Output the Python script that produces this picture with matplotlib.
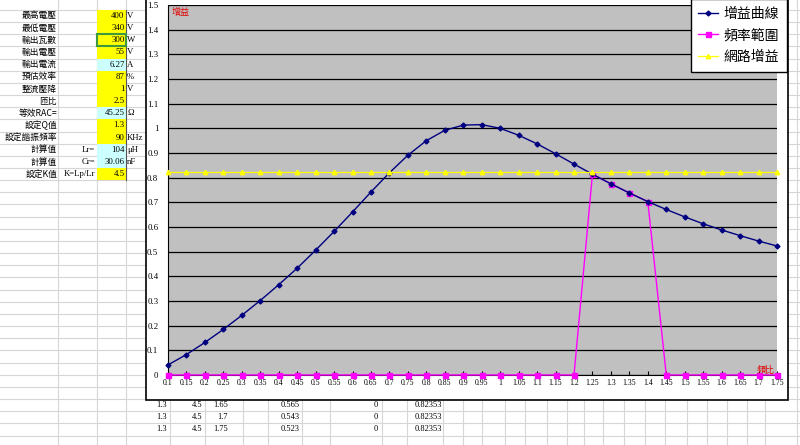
import matplotlib
matplotlib.use('Agg')
import matplotlib.pyplot as plt
from matplotlib.patches import Rectangle

plt.rcParams['font.family'] = ['Noto Sans CJK TC', 'DejaVu Sans']

# ---------------- data ----------------
freq_ratio = [0.1, 0.15, 0.2, 0.25, 0.3, 0.35, 0.4, 0.45, 0.5, 0.55, 0.6, 0.65,
              0.7, 0.75, 0.8, 0.85, 0.9, 0.95, 1.0, 1.05, 1.1, 1.15, 1.2, 1.25,
              1.3, 1.35, 1.4, 1.45, 1.5, 1.55, 1.6, 1.65, 1.7, 1.75]
x_labels = ['0.1', '0.15', '0.2', '0.25', '0.3', '0.35', '0.4', '0.45', '0.5', '0.55',
            '0.6', '0.65', '0.7', '0.75', '0.8', '0.85', '0.9', '0.95', '1', '1.05',
            '1.1', '1.15', '1.2', '1.25', '1.3', '1.35', '1.4', '1.45', '1.5', '1.55',
            '1.6', '1.65', '1.7', '1.75']
gain = [0.041, 0.083, 0.132, 0.185, 0.242, 0.302, 0.366, 0.433, 0.506, 0.582,
        0.661, 0.742, 0.820, 0.891, 0.950, 0.992, 1.013, 1.015, 1.000, 0.972,
        0.937, 0.897, 0.855, 0.814, 0.775, 0.738, 0.703, 0.671, 0.641, 0.613,
        0.588, 0.565, 0.543, 0.523]
freq_range = [0, 0, 0, 0, 0, 0, 0, 0, 0, 0, 0, 0, 0, 0, 0, 0, 0, 0, 0, 0, 0, 0, 0,
              0.814, 0.775, 0.738, 0.703, 0, 0, 0, 0, 0, 0, 0]
net_gain = [0.82353, 0.82353, 0.82353, 0.82353, 0.82353, 0.82353, 0.82353, 0.82353,
            0.82353, 0.82353, 0.82353, 0.82353, 0.82353, 0.82353, 0.82353, 0.82353,
            0.82353, 0.82353, 0.82353, 0.82353, 0.82353, 0.82353, 0.82353, 0.82353,
            0.82353, 0.82353, 0.82353, 0.82353, 0.82353, 0.82353, 0.82353, 0.82353,
            0.82353, 0.82353]
y_ticks = [0, 0.1, 0.2, 0.3, 0.4, 0.5, 0.6, 0.7, 0.8, 0.9, 1.0, 1.1, 1.2, 1.3, 1.4, 1.5]
y_labels = ['0', '0.1', '0.2', '0.3', '0.4', '0.5', '0.6', '0.7', '0.8', '0.9',
            '1', '1.1', '1.2', '1.3', '1.4', '1.5']
series_names = ['增益曲線', '頻率範圍', '網路增益']
y_title = '增益'
x_title = '頻比'

param_labels = ['最高電壓', '最低電壓', '輸出瓦數', '輸出電壓', '輸出電流', '預估效率',
                '整流壓降', '匝比', '等效RAC=', '設定Q值', '設定諧振頻率', '計算值',
                '計算值', '設定K值']
param_extra = ['', '', '', '', '', '', '', '', '', '', '', 'Lr=', 'Cr=', 'K=Lp/Lr']
param_values = ['400', '340', '300', '55', '6.27', '87', '1', '2.5', '45.25', '1.3',
                '90', '104', '30.06', '4.5']
param_units = ['V', 'V', 'W', 'V', 'A', '%', 'V', '', 'Ω', '', 'KHz', 'μH', 'nF', '']
param_input = [True, True, True, True, False, True, True, True, False, True, True,
               False, False, True]
below_rows = [['1.3', '4.5', '1.65', '0.565', '0', '0.82353'],
              ['1.3', '4.5', '1.7', '0.543', '0', '0.82353'],
              ['1.3', '4.5', '1.75', '0.523', '0', '0.82353']]

# ---------------- layout ----------------
W, H = 800, 445
fig = plt.figure(figsize=(W / 100, H / 100), dpi=100)
bg = fig.add_axes([0, 0, 1, 1])
bg.set_xlim(0, W)
bg.set_ylim(H, 0)
bg.axis('off')

row_h = 12.16
row0 = 9.9
grid_c = '#D6D6D6'
for k in range(-1, 37):
    y = row0 + row_h * k
    bg.plot([0, W], [y, y], color=grid_c, lw=0.8, zorder=1)
for x in [58, 97, 126]:
    bg.plot([x, x], [0, H], color=grid_c, lw=0.8, zorder=1)
for x in [170, 205, 243, 268, 302, 330, 382, 407, 443, 463, 482, 505, 525, 547,
          567, 584, 603, 624, 645, 665, 687, 707, 727, 747, 765]:
    bg.plot([x, x], [400, H], color=grid_c, lw=0.8, zorder=1)
bg.plot([797, 797], [0, H], color=grid_c, lw=0.8, zorder=1)

serif = 'Liberation Serif'
for i in range(len(param_labels)):
    top = row0 + row_h * i
    cy = top + row_h / 2
    fc = '#FFFF00' if param_input[i] else '#CCFFFF'
    bg.add_patch(Rectangle((97, top), 29, row_h, fc=fc, ec='none', zorder=2))
    bg.text(57, cy, param_labels[i], ha='right', va='center', fontsize=6.3, zorder=4)
    if param_extra[i]:
        bg.text(95, cy, param_extra[i], ha='right', va='center', fontsize=6.3,
                family=serif, zorder=4)
    bg.text(124.5, cy, param_values[i], ha='right', va='center', fontsize=6.3,
            family=serif, zorder=4)
    if param_units[i]:
        bg.text(127, cy, param_units[i], ha='left', va='center', fontsize=6.3,
                family=[serif, 'DejaVu Sans'], zorder=4)
bg.plot([126, 126], [row0, row0 + row_h * 14], color='#555555', lw=0.8, zorder=3)
bg.add_patch(Rectangle((97, row0 + row_h * 2), 29, row_h, fc='none', ec='#3C9A3C',
                       lw=1.5, zorder=3))

right_edges = [167, 202, 228, 300, 378, 442]
for r, vals in enumerate(below_rows):
    cy = row0 + row_h * (32 + r) + row_h / 2
    for x, v in zip(right_edges, vals):
        bg.text(x, cy, v, ha='right', va='center', fontsize=6, family=serif, zorder=4)

# chart area
bg.add_patch(Rectangle((146, -5), 642, 405, fc='white', ec='black', lw=1.2, zorder=5))

# plot area
px0, px1, py0, py1 = 168, 777, 5, 375
ax = fig.add_axes([px0 / W, 1 - py1 / H, (px1 - px0) / W, (py1 - py0) / H])
ax.set_facecolor('#C0C0C0')
l1, = ax.plot(freq_ratio, gain, color='#000080', marker='D', ms=2.5, lw=1.0,
              label=series_names[0], clip_on=False, zorder=4)
l2, = ax.plot(freq_ratio, freq_range, color='#FF00FF', marker='s', ms=3.6, lw=1.0,
              label=series_names[1], clip_on=False, zorder=3)
l3, = ax.plot(freq_ratio, net_gain, color='#FFFF00', marker='^', ms=3.2, lw=0.9,
              label=series_names[2], clip_on=False, zorder=5)
ax.set_xlim(freq_ratio[0], freq_ratio[-1])
ax.set_ylim(0, 1.5)
ax.set_xticks(freq_ratio)
ax.set_xticklabels(x_labels, family=serif, fontsize=5.6)
ax.set_yticks(y_ticks)
ax.set_yticklabels(y_labels, family=serif, fontsize=6.3)
ax.tick_params(axis='x', direction='in', length=3, pad=3, color='black')
ax.tick_params(axis='y', length=0, pad=7)
ax.yaxis.grid(True, color='black', lw=0.9)
ax.set_axisbelow(True)
for s in ['top', 'right']:
    ax.spines[s].set_visible(False)
ax.spines['left'].set_color('black')
ax.spines['bottom'].set_color('black')

ov = fig.add_axes([0, 0, 1, 1])
ov.set_xlim(0, W)
ov.set_ylim(H, 0)
ov.axis('off')
ov.text(181, 12, y_title, color='#E00000', fontsize=6.5, ha='center', va='center')
ov.text(766, 370, x_title, color='#E00000', fontsize=6.5, ha='center', va='center')

leg = fig.legend(handles=[l1, l2, l3], loc='upper right',
                 bbox_to_anchor=(787 / W, 1 + 1 / H), numpoints=1,
                 prop={'family': 'Noto Sans CJK TC', 'size': 10},
                 fancybox=False, framealpha=1, edgecolor='black',
                 handlelength=1.4, handletextpad=0.45, borderpad=0.55,
                 labelspacing=0.55, borderaxespad=0)
leg.get_frame().set_linewidth(1.0)

fig.savefig('out.png', dpi=100)
